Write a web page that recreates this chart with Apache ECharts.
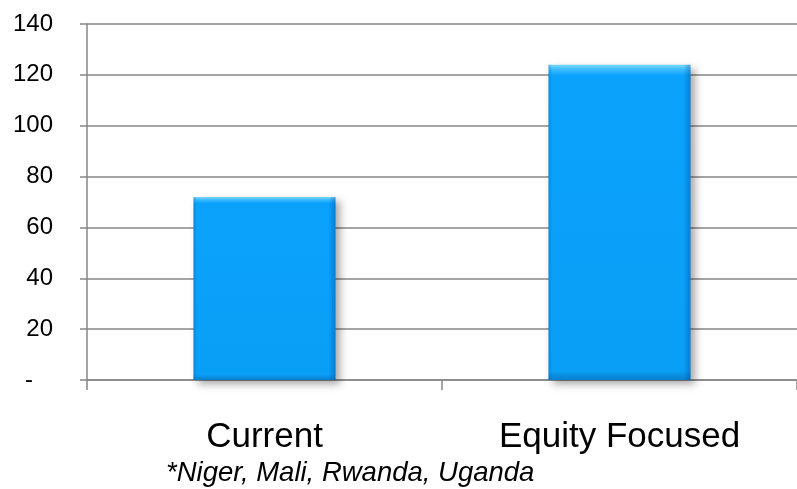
<!DOCTYPE html>
<html>
<head>
<meta charset="utf-8">
<script src="https://cdn.jsdelivr.net/npm/echarts@6/dist/echarts.min.js"></script>
<style>
  html, body { margin: 0; padding: 0; background: #ffffff; }
  #chart { width: 797px; height: 489px; }
</style>
</head>
<body>
<div id="chart"></div>
<script>
// Scenario names and their values
const categories = ['Current', 'Equity Focused'];
const values = [72, 124];
const yTicks = [0, 20, 40, 60, 80, 100, 120, 140];
const footnote = '*Niger, Mali, Rwanda, Uganda';

const chart = echarts.init(document.getElementById('chart'), null, { renderer: 'canvas' });

const axisGray = '#878787';
const font = '"Liberation Sans", Arial, sans-serif';

chart.setOption({
  animation: false,
  backgroundColor: '#ffffff',
  grid: { left: 87, right: -2, top: 24, bottom: 109, containLabel: false },
  xAxis: {
    type: 'category',
    data: categories,
    boundaryGap: true,
    axisLine: { lineStyle: { color: axisGray, width: 1.5 } },
    axisTick: { show: true, length: 10, lineStyle: { color: axisGray, width: 1.5 } },
    axisLabel: { color: '#000000', fontSize: 35, fontFamily: font, margin: 40 }
  },
  yAxis: {
    type: 'value',
    min: yTicks[0],
    max: yTicks[yTicks.length - 1],
    interval: yTicks[1] - yTicks[0],
    axisLine: { show: true, lineStyle: { color: axisGray, width: 1.5 } },
    axisTick: { show: true, length: 7, lineStyle: { color: axisGray, width: 1.5 } },
    splitLine: { show: true, lineStyle: { color: axisGray, width: 1.5 } },
    axisLabel: {
      color: '#000000', fontSize: 24, fontFamily: font, margin: 34,
      formatter: v => (v === 0 ? '-   ' : String(v))
    }
  },
  graphic: [{
    type: 'text',
    left: 166,
    top: 460,
    style: {
      text: footnote,
      font: 'italic 27.5px ' + font,
      fill: '#000000'
    }
  }],
  series: [
    {
      type: 'bar',
      data: values,
      barWidth: '40%',
      itemStyle: {
        color: new echarts.graphic.LinearGradient(0, 0, 0, 1, [
          { offset: 0, color: '#7fd8ff' },
          { offset: 0.015, color: '#3cbcff' },
          { offset: 0.035, color: '#0aa2fb' },
          { offset: 0.97, color: '#0a9ff7' },
          { offset: 1, color: '#0a7fcc' }
        ]),
        shadowColor: 'rgba(0,0,0,0.35)',
        shadowBlur: 8,
        shadowOffsetX: 4,
        shadowOffsetY: 4
      },
      z: 2
    },
    {
      // edge shading laid over the same bars
      type: 'bar',
      data: values,
      barWidth: '40%',
      barGap: '-100%',
      silent: true,
      itemStyle: {
        color: new echarts.graphic.LinearGradient(0, 0, 1, 0, [
          { offset: 0, color: 'rgba(0,60,140,0.25)' },
          { offset: 0.025, color: 'rgba(0,60,140,0)' },
          { offset: 0.95, color: 'rgba(0,60,140,0)' },
          { offset: 1, color: 'rgba(0,60,140,0.35)' }
        ])
      },
      z: 3
    }
  ]
});
</script>
</body>
</html>
